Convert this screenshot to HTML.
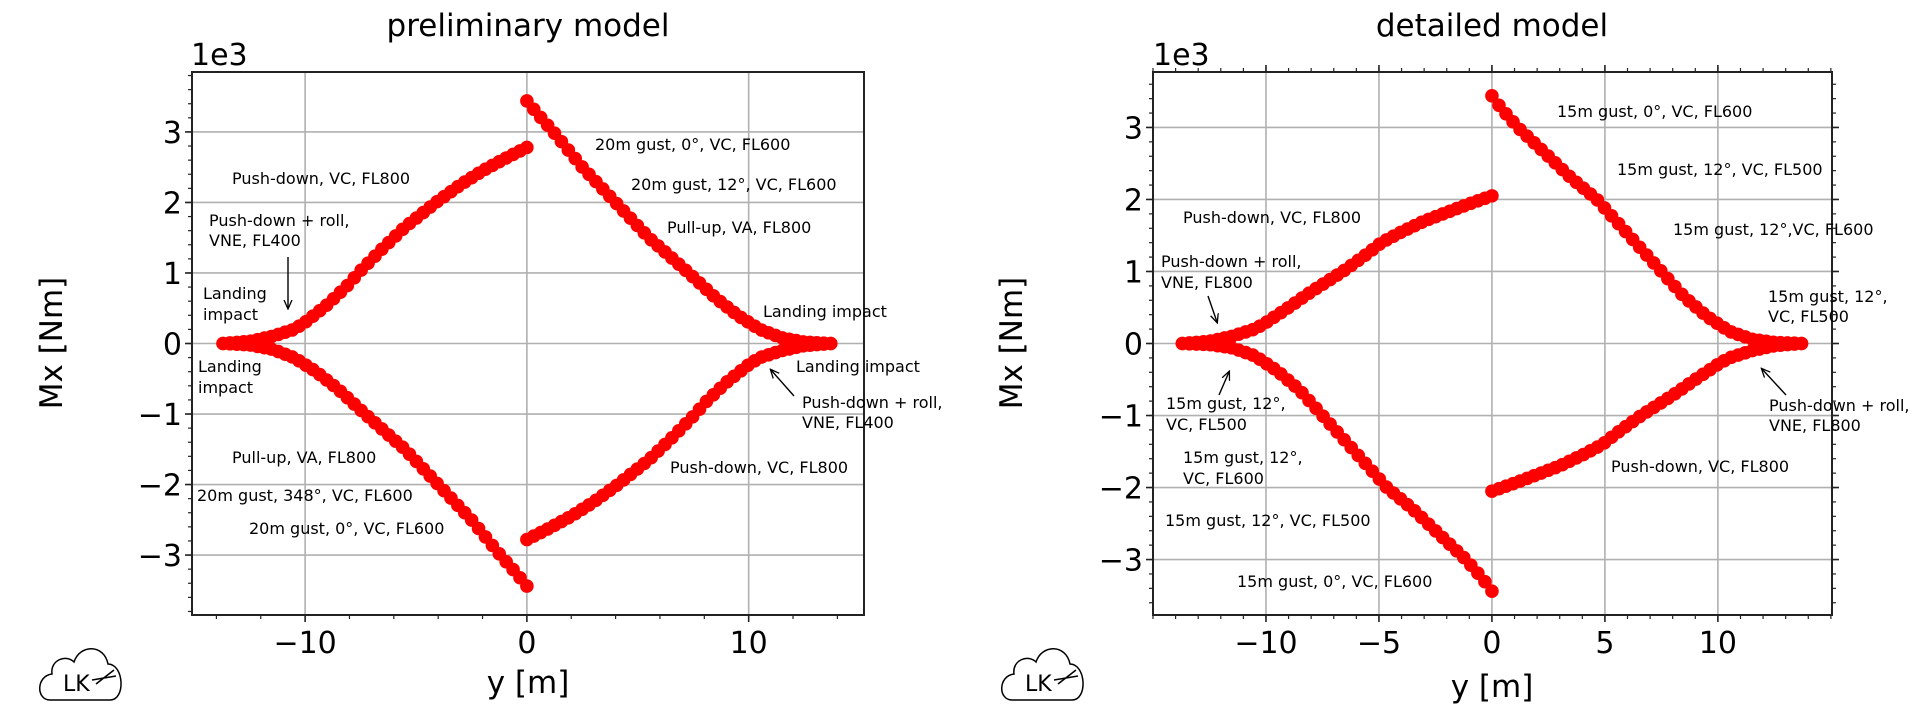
<!DOCTYPE html>
<html><head><meta charset="utf-8"><style>
body{margin:0;background:#fff;width:1920px;height:720px;overflow:hidden}
svg{display:block}
text{font-family:"DejaVu Sans","Liberation Sans",sans-serif;fill:#000}
.a{font-size:16px}
.t{font-size:30px}
.l{font-size:31px}
</style></head><body>
<svg id="s" width="1920" height="720" xmlns="http://www.w3.org/2000/svg">
<defs><marker id="ah" markerWidth="10" markerHeight="10" refX="8" refY="5" orient="auto" markerUnits="userSpaceOnUse"><path d="M0,1 L9,5 L0,9" fill="none" stroke="#000" stroke-width="1.3"/></marker></defs>
<g id="g"></g>
<text class="l" x="528" y="36" text-anchor="middle">preliminary model</text>
<text class="l" x="1492" y="36" text-anchor="middle">detailed model</text>
<text class="t" x="191" y="65">1e3</text>
<text class="t" x="1153" y="65">1e3</text>
<text class="l" x="528" y="693" text-anchor="middle">y [m]</text>
<text class="l" x="1492" y="697" text-anchor="middle">y [m]</text>
<text class="l" transform="translate(62,343) rotate(-90)" text-anchor="middle">Mx [Nm]</text>
<text class="l" transform="translate(1022,343) rotate(-90)" text-anchor="middle">Mx [Nm]</text>
<g class="a">
<text class="a" x="595" y="150">20m gust, 0°, VC, FL600</text>
<text class="a" x="631" y="190">20m gust, 12°, VC, FL600</text>
<text class="a" x="667" y="233">Pull-up, VA, FL800</text>
<text class="a" x="232" y="184">Push-down, VC, FL800</text>
<text class="a" x="209" y="226">Push-down + roll,</text>
<text class="a" x="209" y="246">VNE, FL400</text>
<text class="a" x="203" y="299">Landing</text>
<text class="a" x="203" y="320">impact</text>
<text class="a" x="198" y="372">Landing</text>
<text class="a" x="198" y="393">impact</text>
<text class="a" x="232" y="463">Pull-up, VA, FL800</text>
<text class="a" x="197" y="501">20m gust, 348°, VC, FL600</text>
<text class="a" x="249" y="534">20m gust, 0°, VC, FL600</text>
<text class="a" x="763" y="317">Landing impact</text>
<text class="a" x="796" y="372">Landing impact</text>
<text class="a" x="802" y="408">Push-down + roll,</text>
<text class="a" x="802" y="428">VNE, FL400</text>
<text class="a" x="670" y="473">Push-down, VC, FL800</text>
<text class="a" x="1557" y="117">15m gust, 0°, VC, FL600</text>
<text class="a" x="1617" y="175">15m gust, 12°, VC, FL500</text>
<text class="a" x="1673" y="235">15m gust, 12°,VC, FL600</text>
<text class="a" x="1768" y="302">15m gust, 12°,</text>
<text class="a" x="1768" y="322">VC, FL500</text>
<text class="a" x="1769" y="411">Push-down + roll,</text>
<text class="a" x="1769" y="431">VNE, FL800</text>
<text class="a" x="1611" y="472">Push-down, VC, FL800</text>
<text class="a" x="1183" y="223">Push-down, VC, FL800</text>
<text class="a" x="1161" y="267">Push-down + roll,</text>
<text class="a" x="1161" y="288">VNE, FL800</text>
<text class="a" x="1166" y="409">15m gust, 12°,</text>
<text class="a" x="1166" y="430">VC, FL500</text>
<text class="a" x="1183" y="463">15m gust, 12°,</text>
<text class="a" x="1183" y="484">VC, FL600</text>
<text class="a" x="1165" y="526">15m gust, 12°, VC, FL500</text>
<text class="a" x="1237" y="587">15m gust, 0°, VC, FL600</text>
</g>
<g stroke="#000" stroke-width="1.4" marker-end="url(#ah)">
<line x1="288" y1="257" x2="288" y2="308"/>
<line x1="794" y1="396" x2="771" y2="370"/>
<line x1="1786" y1="395" x2="1762" y2="369"/>
<line x1="1208" y1="296" x2="1217" y2="322"/>
<line x1="1219" y1="395" x2="1229" y2="372"/>
</g>
<g fill="none" stroke="#000" stroke-width="1.5">
<path d="M50,700 C36,700 36,676 52,674 C50,660 66,654 74,662 C80,644 104,644 108,664 C124,664 126,700 110,700 Z"/>
<path d="M1012,700 C998,700 998,676 1014,674 C1012,660 1028,654 1036,662 C1042,644 1066,644 1070,664 C1086,664 1088,700 1072,700 Z"/>
<path d="M96,684 L114,670 M92,680 L116,676 M1058,684 L1076,670 M1054,680 L1078,676"/>
</g>
<text x="63" y="691" style="font-size:22px">LK</text>
<text x="1025" y="691" style="font-size:22px">LK</text>
</svg>
<script>
const NS="http://www.w3.org/2000/svg",g=document.getElementById('g');
function el(n,a){const e=document.createElementNS(NS,n);for(const k in a)e.setAttribute(k,a[k]);g.appendChild(e);return e;}
function txt(x,y,s,anc){const e=el('text',{x:x,y:y,'text-anchor':anc,'class':'t'});e.textContent=s;}
function plot(P){
 const X=v=>P.x0+(v-P.xmin)/(P.xmax-P.xmin)*(P.x1-P.x0);
 const Y=v=>P.y1-(v-P.ymin)/(P.ymax-P.ymin)*(P.y1-P.y0);
 P.xt.forEach(v=>el('line',{x1:X(v),x2:X(v),y1:P.y0,y2:P.y1,stroke:'#b0b0b0','stroke-width':1.6}));
 for(let v=-3;v<=3;v++)el('line',{x1:P.x0,x2:P.x1,y1:Y(v),y2:Y(v),stroke:'#b0b0b0','stroke-width':1.6});
 const A=P.A,B=P.B;
 const sets=[A,B,A.map(p=>[-p[0],-p[1]]),B.map(p=>[-p[0],-p[1]])];
 sets.forEach(c=>{c=c.slice().sort((a,b)=>a[0]-b[0]);
  const lo=c[0][0],hi=c[c.length-1][0],n=Math.round((hi-lo)/0.31);
  for(let i=0;i<=n;i++){const x=lo+(hi-lo)*i/n;let j=0;while(j<c.length-2&&c[j+1][0]<x)j++;
   const t=(x-c[j][0])/(c[j+1][0]-c[j][0]);const y=c[j][1]+t*(c[j+1][1]-c[j][1]);
   el('circle',{cx:X(x),cy:Y(y),r:6.8,fill:'#ff0000'});}
 });
 const tk=(x1,y1,x2,y2,w)=>el('line',{x1,y1,x2,y2,stroke:'#222','stroke-width':w});
 P.xt.forEach(v=>{tk(X(v),P.y1,X(v),P.y1+7,1.6);if(P.all)tk(X(v),P.y0,X(v),P.y0-7,1.6);txt(X(v),P.y1+38,v<0?'\u2212'+(-v):''+v,'middle');});
 for(let v=Math.ceil(P.xmin/P.xm)*P.xm;v<=P.xmax;v+=P.xm){tk(X(v),P.y1,X(v),P.y1+4,1.2);if(P.all)tk(X(v),P.y0,X(v),P.y0-4,1.2);}
 for(let v=-3;v<=3;v++){tk(P.x0,Y(v),P.x0-7,Y(v),1.6);if(P.all)tk(P.x1,Y(v),P.x1+7,Y(v),1.6);txt(P.x0-10,Y(v)+11,v<0?'\u2212'+(-v):''+v,'end');}
 for(let i=-19;i<=19;i++){const v=i*0.2;if(v<P.ymin||v>P.ymax)continue;tk(P.x0,Y(v),P.x0-4,Y(v),1.2);if(P.all)tk(P.x1,Y(v),P.x1+4,Y(v),1.2);}
 el('rect',{x:P.x0,y:P.y0,width:P.x1-P.x0,height:P.y1-P.y0,fill:'none',stroke:'#222','stroke-width':2});
}
plot({x0:192,x1:864,y0:72,y1:615,xmin:-15.1,xmax:15.2,ymin:-3.85,ymax:3.85,xt:[-10,0,10],xm:2,all:false,
 A:[[-13.7,0],[-12.5,0.03],[-11.5,0.1],[-10.5,0.2],[-10,0.3],[-9,0.55],[-8,0.85],[-7.6,1.0],[-6.5,1.35],[-5.5,1.65],[-4.1,2.0],[-3,2.25],[-2,2.45],[-1,2.62],[0,2.78]],
 B:[[0,3.44],[0.5,3.25],[1.2,3.0],[2.5,2.5],[4,2.0],[5.5,1.5],[7.3,1.0],[8.5,0.65],[9.5,0.4],[10.5,0.2],[11.5,0.08],[12.5,0.02],[13.7,0]]});
plot({x0:1153,x1:1832,y0:72,y1:615,xmin:-15.0,xmax:15.05,ymin:-3.77,ymax:3.77,xt:[-10,-5,0,5,10],xm:1,all:true,
 A:[[-13.7,0],[-12.5,0.03],[-11.5,0.1],[-10.5,0.2],[-10,0.29],[-9,0.5],[-8,0.72],[-6.6,1.0],[-5.5,1.25],[-4.9,1.4],[-4,1.55],[-3,1.7],[-2,1.82],[-1,1.94],[0,2.05]],
 B:[[0,3.44],[0.4,3.27],[1.15,3.0],[2.5,2.6],[3.5,2.3],[4.65,2.0],[5.5,1.7],[6.5,1.35],[7.5,1.0],[8.5,0.65],[9.5,0.38],[10.5,0.17],[11.5,0.06],[12.5,0.015],[13.7,0]]});
</script>
</body></html>
